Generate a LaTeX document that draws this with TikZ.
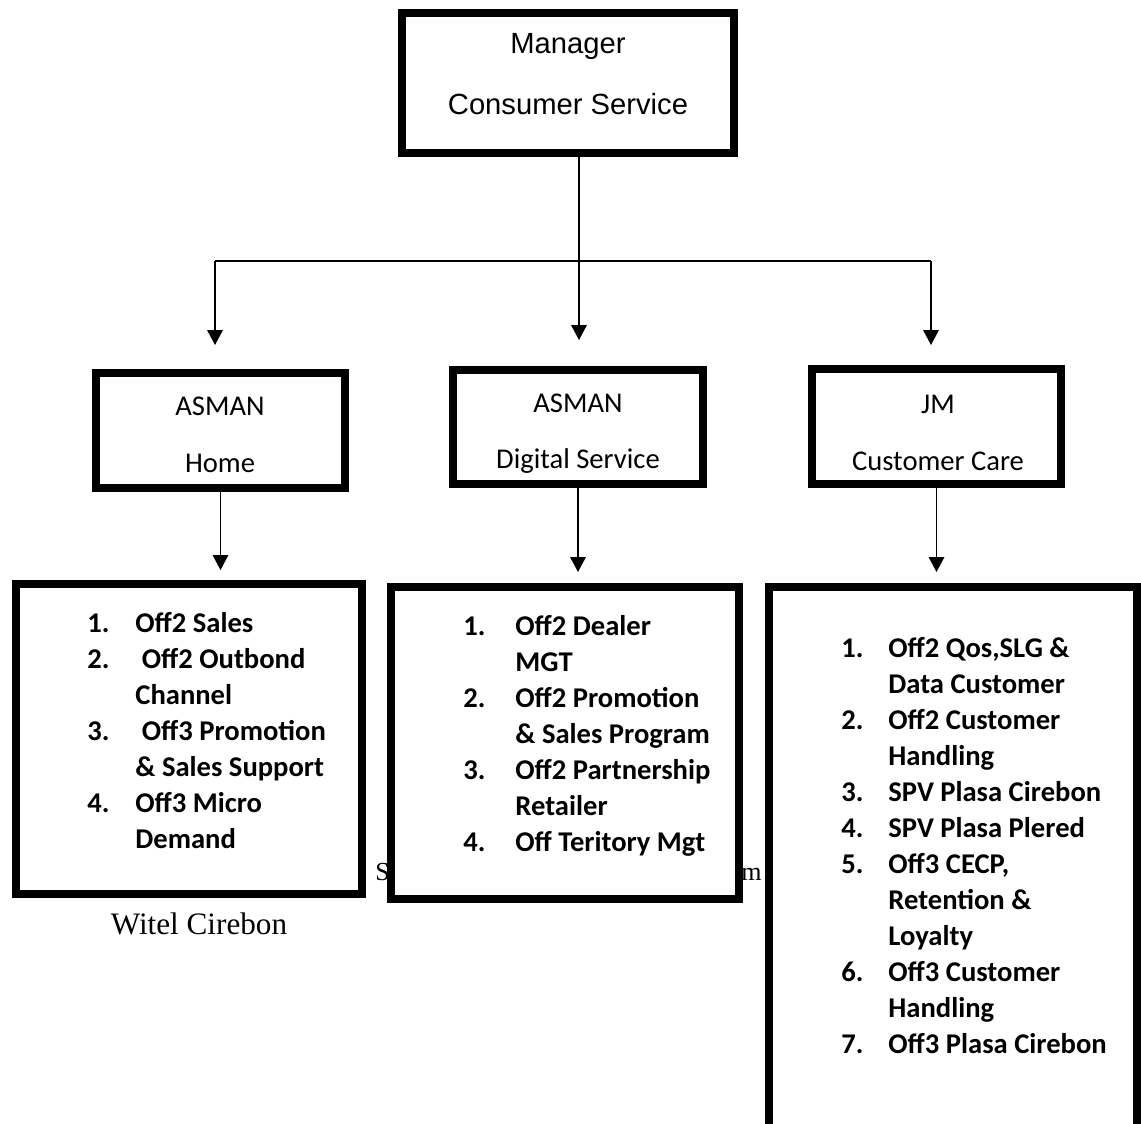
\documentclass[tikz,border=0pt]{standalone}
\usepackage{fontspec}
\setmainfont{Liberation Serif}
\newfontfamily\arialfont{Liberation Sans}
\newfontfamily\califont{Carlito}
\usetikzlibrary{arrows.meta}

\tikzset{
  headbox/.style={draw, line width=4pt, fill=white, inner sep=0pt},
  listbox/.style={draw, line width=4pt, fill=white, inner sep=0pt},
  headtext/.style={inner sep=0pt, align=center, anchor=north,
    font=\califont\fontsize{14.3pt}{28.5pt}\selectfont},
  listtext/.style={inner sep=0pt, align=left, anchor=north west,
    font=\califont\bfseries\fontsize{14.3pt}{18pt}\selectfont},
  captext/.style={inner sep=0pt, font=\fontsize{13pt}{15pt}\selectfont},
  link/.style={line width=0.75pt},
  arrowlink/.style={link, -{Triangle[length=7.5pt, width=7.8pt]}},
}
\newcommand{\itm}[2][24pt]{\makebox[#1][l]{#2}}

\begin{document}
\begin{tikzpicture}[x=0.5pt, y=-0.5pt]
  \useasboundingbox (0,0) rectangle (1141,1124);
  \fill[white] (0,0) rectangle (1141,1124);

  % caption partly hidden behind the boxes
  \node[captext, anchor=base west] (capS) at (375,880) {S};
  \node[captext, anchor=base east] (capM) at (762,880) {m};
  \node[inner sep=0pt, anchor=base, font=\fontsize{15.6pt}{18pt}\selectfont] (witel) at (199,934) {Witel Cirebon};

  % boxes
  \node[headbox, minimum width=166pt, minimum height=70pt] (mgr) at (568,83) {};
  \node[headbox, minimum width=124.5pt, minimum height=57.5pt] (home) at (220.5,430.5) {};
  \node[headbox, minimum width=125pt, minimum height=57pt] (dig) at (578,427) {};
  \node[headbox, minimum width=124.5pt, minimum height=57.5pt] (jm) at (936.5,426.5) {};

  \node[listbox, minimum width=173pt, minimum height=155pt] (hlist) at (189,739) {};
  \node[listbox, minimum width=174pt, minimum height=156pt] (dlist) at (565,743) {};
  \node[listbox, minimum width=184pt, minimum height=356.5pt] (jlist) at (953,943.5) {};

  % box texts
  \node[headtext, font=\arialfont\fontsize{14.6pt}{30.5pt}\selectfont] (mgrtext) at (568,33) {Manager\\Consumer Service};
  \node[headtext] (hometext) at (220,397) {ASMAN\\Home};
  \node[headtext, font=\califont\fontsize{14.3pt}{28pt}\selectfont] (digtext) at (578,394) {ASMAN\\Digital Service};
  \node[headtext] (jmtext) at (938,395) {JM\\Customer Care};

  \node[listtext] (hlisttext) at (87,612) {%
    \itm{1.}Off2 Sales\\
    \itm{2.}\ Off2 Outbond\\
    \itm{}Channel\\
    \itm{3.}\ Off3 Promotion\\
    \itm{}\& Sales Support\\
    \itm{4.}Off3 Micro\\
    \itm{}Demand};
  \node[listtext] (dlisttext) at (463,615) {%
    \itm[26pt]{1.}Off2 Dealer\\
    \itm[26pt]{}MGT\\
    \itm[26pt]{2.}Off2 Promotion\\
    \itm[26pt]{}\& Sales Program\\
    \itm[26pt]{3.}Off2 Partnership\\
    \itm[26pt]{}Retailer\\
    \itm[26pt]{4.}Off Teritory Mgt};
  \node[listtext] (jlisttext) at (841,637) {%
    \itm[23.5pt]{1.}Off2 Qos,SLG \&\\
    \itm[23.5pt]{}Data Customer\\
    \itm[23.5pt]{2.}Off2 Customer\\
    \itm[23.5pt]{}Handling\\
    \itm[23.5pt]{3.}SPV Plasa Cirebon\\
    \itm[23.5pt]{4.}SPV Plasa Plered\\
    \itm[23.5pt]{5.}Off3 CECP,\\
    \itm[23.5pt]{}Retention \&\\
    \itm[23.5pt]{}Loyalty\\
    \itm[23.5pt]{6.}Off3 Customer\\
    \itm[23.5pt]{}Handling\\
    \itm[23.5pt]{7.}Off3 Plasa Cirebon};

  % connectors
  \coordinate (jn) at (579,261);
  \coordinate (jl) at (215,261);
  \coordinate (jr) at (931,261);
  \draw[link] (jn |- mgr.south) -- (jn);
  \draw[link] (jl) -- (jr);
  \draw[arrowlink, shorten >=12pt] (jl) -- (jl |- home.north);
  \draw[arrowlink, shorten >=13pt] (jn) -- (jn |- dig.north);
  \draw[arrowlink, shorten >=10pt] (jr) -- (jr |- jm.north);

  \draw[arrowlink, shorten >=5pt] (home.south) -- (home.south |- hlist.north);
  \draw[arrowlink, shorten >=5.5pt] (dig.south) -- (dig.south |- dlist.north);
  \draw[arrowlink, shorten >=5.5pt] (jm.south) -- (jm.south |- jlist.north);
\end{tikzpicture}
\end{document}
